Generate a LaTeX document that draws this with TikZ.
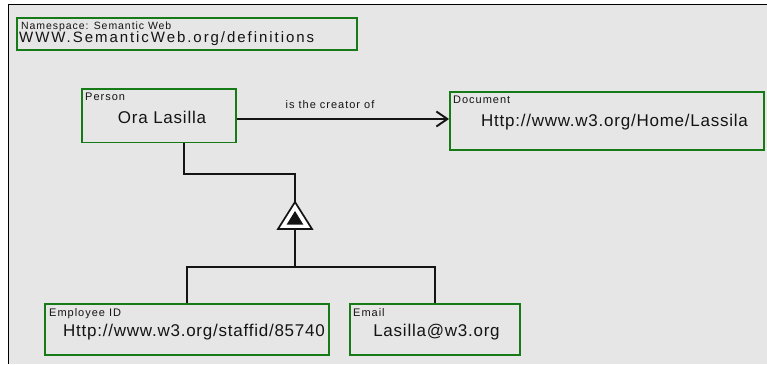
\documentclass[tikz,border=0pt]{standalone}
\usepackage{fontspec}
\setmainfont{Liberation Sans}
\newfontfamily\valuefont[LetterSpace=4.5]{Liberation Sans}
\newfontfamily\widevaluefont[LetterSpace=13]{Liberation Sans}
\newfontfamily\tagfont[LetterSpace=9]{Liberation Sans}
\usetikzlibrary{arrows.meta}
\definecolor{boxgreen}{RGB}{22,122,22}
\definecolor{canvas}{RGB}{230,230,230}
\definecolor{ink}{RGB}{20,20,20}
\begin{document}
\begin{tikzpicture}[x=1pt,y=-1pt,
  entity/.style={draw=boxgreen,line width=1.9pt,rectangle,inner sep=0pt},
  tag/.style={anchor=north west,inner sep=0pt,text=ink,font=\tagfont\fontsize{11}{12}\selectfont},
  value/.style={anchor=base,inner sep=0pt,text=ink,font=\valuefont\fontsize{17}{20}\selectfont},
  wire/.style={line width=1.9pt,draw=ink}]
\useasboundingbox (0,0) rectangle (767,364);
% canvas and its frame
\fill[canvas] (8.5,4.5) rectangle (767,364);
\draw[line width=1.8pt] (8.5,364) -- (8.5,4.5) -- (767,4.5);

% namespace
\node[entity,minimum width=340pt,minimum height=32pt] (ns) at (187,34) {};
\node[tag,font=\tagfont\fontsize{10.5}{12}\selectfont] (nslabel) at (21,21.5) {Namespace: Semantic Web};
\node[value,anchor=base west,font=\widevaluefont\fontsize{15}{18}\selectfont] (nsvalue) at (19,42.2) {WWW.SemanticWeb.org/definitions};

% entities
\node[entity,minimum width=154pt,minimum height=53.5pt] (person) at (159,115.75) {};
\node[tag] (personlabel) at (85,93) {Person};
\node[value] (personvalue) at (162,123.3) {Ora Lasilla};

\node[entity,minimum width=314pt,minimum height=58pt] (document) at (607,121) {};
\node[tag] (doclabel) at (453,95.5) {Document};
\node[value] (docvalue) at (614.5,126.7) {Http://www.w3.org/Home/Lassila};

\node[entity,minimum width=284pt,minimum height=51pt] (employee) at (187,329.5) {};
\node[tag] (emplabel) at (49,308.5) {Employee ID};
\node[value] (empvalue) at (194,336.7) {Http://www.w3.org/staffid/85740};

\node[entity,minimum width=170pt,minimum height=51pt] (email) at (435,329.5) {};
\node[tag] (maillabel) at (353,308.5) {Email};
\node[value] (mailvalue) at (436.5,336.7) {Lasilla@w3.org};

% relation
\draw[wire,-{Straight Barb[length=11pt,width=15pt,line width=1.9pt]}]
  ([yshift=-3.25pt]person.east) coordinate (relstart) -- (relstart -| document.west);
\node[anchor=base,inner sep=0pt,text=ink,font=\tagfont\fontsize{11}{12}\selectfont] (rellabel)
  at (330,108.3) {is the creator of};

% generalisation
\coordinate (apex) at (295,202);
\coordinate (base) at (295,229);
\coordinate (fork) at (295,267);
\draw[wire] ([xshift=25pt]person.south) -- ++(0,30.5) -| (apex);
\draw[wire,line width=1.7pt,line join=miter,fill=white] (apex) -- ++(17,27) -- ++(-34,0) -- cycle;
\fill[ink] (295,211) -- ++(8.3,13.5) -- ++(-16.6,0) -- cycle;
\draw[wire] (base) -- (fork);
\draw[wire] (employee.north) |- (fork) -| (email.north);
\end{tikzpicture}
\end{document}
